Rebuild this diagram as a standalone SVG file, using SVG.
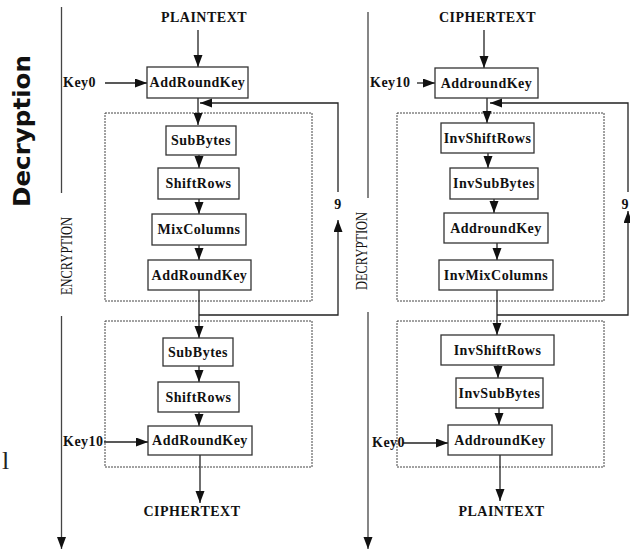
<svg xmlns="http://www.w3.org/2000/svg" width="630" height="549" viewBox="0 0 630 549">
<style>
.bx{fill:#fff;stroke:#333;stroke-width:1.3}
.dash{fill:none;stroke:#444;stroke-width:1;stroke-dasharray:2 1}
.lb{font-family:"Liberation Serif","Times New Roman",serif;font-weight:bold;font-size:14px;letter-spacing:0.5px;fill:#111}
.c{text-anchor:middle}
.ln{fill:none;stroke:#222;stroke-width:1.3}
.ax{fill:none;stroke:#444;stroke-width:1.3}
.side{font-family:"Liberation Serif","Times New Roman",serif;font-size:17px;fill:#111}
</style>
<defs>
<marker id="ah" markerUnits="userSpaceOnUse" markerWidth="13" markerHeight="10" refX="12" refY="4.5" orient="auto">
<path d="M0,0 L12,4.5 L0,9 z" fill="#111"/>
</marker>
</defs>
<rect width="630" height="549" fill="#fff"/>

<text x="30" y="131" transform="rotate(-90 30 131)" text-anchor="middle" font-family="'DejaVu Sans',Verdana,sans-serif" font-weight="bold" font-size="23" textLength="152" lengthAdjust="spacingAndGlyphs" fill="#111">Decryption</text>
<text x="2" y="469" font-family="'Liberation Serif',serif" font-size="26" fill="#222">l</text>

<g id="axes">
<line class="ax" x1="61.5" y1="7" x2="61.5" y2="193"/>
<line class="ax" x1="61.5" y1="316" x2="61.5" y2="549" marker-end="url(#ah)"/>
<text class="side" transform="translate(72,256) rotate(-90)" text-anchor="middle" textLength="78" lengthAdjust="spacingAndGlyphs">ENCRYPTION</text>
<line class="ax" x1="368" y1="12" x2="368" y2="198"/>
<line class="ax" x1="368" y1="312" x2="368" y2="549" marker-end="url(#ah)"/>
<text class="side" transform="translate(367,251) rotate(-90)" text-anchor="middle" textLength="78" lengthAdjust="spacingAndGlyphs">DECRYPTION</text>
</g>

<g id="rounds">
<rect class="dash" x="105" y="113" width="207" height="188"/>
<rect class="dash" x="105" y="321" width="207" height="146"/>
<rect class="dash" x="397" y="113" width="207" height="188"/>
<rect class="dash" x="397" y="321" width="207" height="146"/>
</g>

<g id="connectors">
<line class="ln" x1="198" y1="30" x2="198" y2="67" marker-end="url(#ah)"/>
<line class="ln" x1="105" y1="83" x2="147" y2="83" marker-end="url(#ah)"/>
<line class="ln" x1="198" y1="98" x2="198" y2="125" marker-end="url(#ah)"/>
<path class="ln" d="M338,192 V103 H200" marker-end="url(#ah)"/>
<line class="ln" x1="199" y1="155" x2="199" y2="168" marker-end="url(#ah)"/>
<line class="ln" x1="199" y1="199" x2="199" y2="214" marker-end="url(#ah)"/>
<line class="ln" x1="199" y1="245" x2="199" y2="260" marker-end="url(#ah)"/>
<line class="ln" x1="199" y1="290" x2="199" y2="338" marker-end="url(#ah)"/>
<path class="ln" d="M199,315 H338 V220" marker-end="url(#ah)"/>
<line class="ln" x1="199" y1="366" x2="199" y2="382" marker-end="url(#ah)"/>
<line class="ln" x1="199" y1="412" x2="199" y2="426" marker-end="url(#ah)"/>
<line class="ln" x1="104" y1="442" x2="148" y2="442" marker-end="url(#ah)"/>
<line class="ln" x1="200" y1="455" x2="200" y2="503" marker-end="url(#ah)"/>

<line class="ln" x1="484" y1="30" x2="484" y2="68" marker-end="url(#ah)"/>
<line class="ln" x1="417" y1="83" x2="435" y2="83" marker-end="url(#ah)"/>
<line class="ln" x1="487" y1="98" x2="487" y2="123" marker-end="url(#ah)"/>
<path class="ln" d="M628,192 V103 H490" marker-end="url(#ah)"/>
<line class="ln" x1="488" y1="153" x2="488" y2="168" marker-end="url(#ah)"/>
<line class="ln" x1="494" y1="199" x2="494" y2="213" marker-end="url(#ah)"/>
<line class="ln" x1="497" y1="243" x2="497" y2="260" marker-end="url(#ah)"/>
<line class="ln" x1="497" y1="290" x2="497" y2="335" marker-end="url(#ah)"/>
<path class="ln" d="M497,315 H628 V211" marker-end="url(#ah)"/>
<line class="ln" x1="498" y1="365" x2="498" y2="378" marker-end="url(#ah)"/>
<line class="ln" x1="499" y1="408" x2="499" y2="425" marker-end="url(#ah)"/>
<line class="ln" x1="403" y1="443" x2="448" y2="443" marker-end="url(#ah)"/>
<line class="ln" x1="500" y1="455" x2="500" y2="501" marker-end="url(#ah)"/>
<text class="lb c" x="338" y="209" font-size="11">9</text>
<text class="lb" x="629" y="209" font-size="11" text-anchor="end" letter-spacing="0">9</text>
</g>

<g id="enc-plaintext"><text class="lb c" x="204" y="22">PLAINTEXT</text></g>
<g id="enc-key0"><text class="lb" x="63" y="87">Key0</text></g>
<g id="enc-ark0"><rect class="bx" x="147" y="67" width="101" height="31"/><text class="lb c" x="197.5" y="87">AddRoundKey</text></g>
<g id="enc-subbytes"><rect class="bx" x="166" y="126" width="70" height="29"/><text class="lb c" x="201" y="145">SubBytes</text></g>
<g id="enc-shiftrows"><rect class="bx" x="158" y="168" width="81" height="31"/><text class="lb c" x="198.5" y="188">ShiftRows</text></g>
<g id="enc-mixcolumns"><rect class="bx" x="152" y="214" width="94" height="31"/><text class="lb c" x="199" y="234">MixColumns</text></g>
<g id="enc-ark"><rect class="bx" x="148" y="260" width="103" height="30"/><text class="lb c" x="199.5" y="280">AddRoundKey</text></g>
<g id="enc-subbytes2"><rect class="bx" x="163" y="338" width="70" height="28"/><text class="lb c" x="198" y="357">SubBytes</text></g>
<g id="enc-shiftrows2"><rect class="bx" x="158" y="382" width="81" height="30"/><text class="lb c" x="198.5" y="402">ShiftRows</text></g>
<g id="enc-key10"><text class="lb" x="63" y="446">Key10</text></g>
<g id="enc-ark10"><rect class="bx" x="148" y="426" width="104" height="29"/><text class="lb c" x="200" y="445">AddRoundKey</text></g>
<g id="enc-ciphertext"><text class="lb c" x="192" y="516">CIPHERTEXT</text></g>

<g id="dec-ciphertext"><text class="lb c" x="487.5" y="22">CIPHERTEXT</text></g>
<g id="dec-key10"><text class="lb" x="370" y="87">Key10</text></g>
<g id="dec-ark10"><rect class="bx" x="435" y="68" width="103" height="30"/><text class="lb c" x="486.5" y="88">AddroundKey</text></g>
<g id="dec-invshiftrows"><rect class="bx" x="441" y="123" width="93" height="30"/><text class="lb c" x="487.5" y="143">InvShiftRows</text></g>
<g id="dec-invsubbytes"><rect class="bx" x="450" y="168" width="88" height="31"/><text class="lb c" x="494" y="188">InvSubBytes</text></g>
<g id="dec-ark"><rect class="bx" x="444" y="213" width="104" height="30"/><text class="lb c" x="496" y="233">AddroundKey</text></g>
<g id="dec-invmixcolumns"><rect class="bx" x="439" y="260" width="114" height="30"/><text class="lb c" x="496" y="280">InvMixColumns</text></g>
<g id="dec-invshiftrows2"><rect class="bx" x="441" y="335" width="113" height="30"/><text class="lb c" x="497.5" y="355">InvShiftRows</text></g>
<g id="dec-invsubbytes2"><rect class="bx" x="456" y="378" width="87" height="30"/><text class="lb c" x="499.5" y="398">InvSubBytes</text></g>
<g id="dec-key0"><text class="lb" x="372" y="447">Key0</text></g>
<g id="dec-ark0"><rect class="bx" x="448" y="425" width="104" height="30"/><text class="lb c" x="500" y="445">AddroundKey</text></g>
<g id="dec-plaintext"><text class="lb c" x="501.5" y="516">PLAINTEXT</text></g>
</svg>
